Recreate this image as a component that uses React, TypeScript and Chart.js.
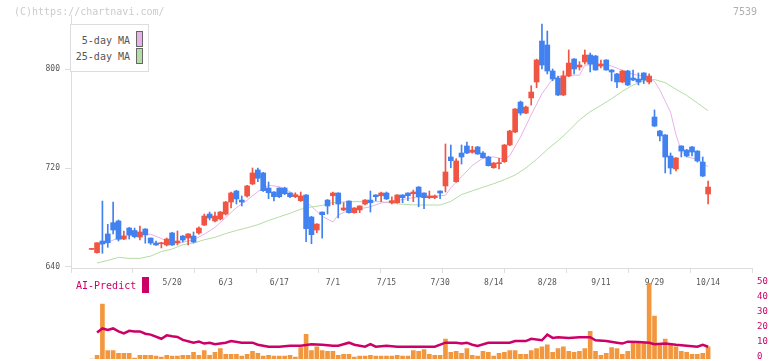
import React, { useEffect, useRef } from "react";
import { Chart, registerables } from "chart.js";
Chart.register(...registerables);

// ---------- data ----------
const openP = [654.2, 651.6, 661.0, 666.7, 675.8, 677.2, 662.6, 671.5, 669.5, 664.2, 670.7, 663.4, 659.4, 658.8, 657.8, 667.5, 659.4, 665, 663.4, 665, 667.5, 673.9, 682.8, 677.2, 678.8, 682.8, 692.5, 701.4, 694.1, 697.4, 707.1, 718.4, 716, 703.8, 700.6, 703.8, 703.8, 699.8, 696.8, 693.6, 698.2, 680.4, 669.9, 684.4, 694.1, 697.6, 699.8, 686.1, 693.3, 683.9, 686.1, 690.9, 694.1, 698.2, 697.6, 699.8, 692, 692, 698.2, 699.8, 699.2, 704.6, 699.8, 696, 696, 701.4, 705.5, 728.9, 708.9, 732.1, 737.8, 732.7, 737, 732.1, 728.9, 720.2, 723.5, 725.1, 738.6, 749.1, 773.3, 764.4, 776.6, 789.5, 822.6, 819.4, 798.4, 792.7, 779, 794.3, 808.1, 801.6, 805.7, 811.3, 810.5, 802.4, 807.3, 799.2, 796, 789.5, 798.4, 792.7, 791.9, 796.8, 789.5, 761.2, 749.9, 746.7, 729.7, 719.2, 737.8, 734.5, 737, 733.7, 724.8, 699];
const highP = [655, 659.6, 693.3, 674.5, 692.5, 678, 669.1, 672, 671.5, 673.1, 671, 663.5, 661, 660, 663.4, 668, 669.1, 665.5, 667, 668.3, 672.5, 682.8, 684.4, 684.4, 685, 693, 700.5, 702, 697.4, 706, 720, 720, 716.5, 708.7, 701, 704, 704.5, 700, 700, 700.6, 698.5, 681, 675, 684.5, 694.5, 700.5, 700, 692, 693.5, 688, 689.5, 694.5, 701.4, 698.5, 700.5, 700.6, 696.8, 698.5, 698.5, 700, 702.2, 705, 700, 701.4, 698.2, 701.5, 739.4, 738.6, 727.5, 738.6, 741, 737.5, 737.5, 733.2, 729.5, 724.5, 727.8, 739, 750.5, 768, 774.1, 770.1, 786.5, 808, 836.4, 830.7, 800, 794.3, 798.4, 815.4, 808.5, 805.9, 815.4, 812.9, 811, 807.3, 807.5, 799.5, 796.5, 799, 799, 799.2, 796.8, 797, 796, 766.9, 750.5, 747, 732.1, 728.5, 738, 735, 737.5, 734, 728.9, 709.5];
const lowP = [654.2, 651.1, 651.1, 655.9, 666.7, 661, 662, 662.6, 663.5, 661.8, 659.2, 658.3, 657.5, 655.4, 657, 657.5, 657.8, 660.2, 657.8, 659.5, 666.5, 673.5, 678, 676.5, 678, 682, 687.7, 690.9, 689.3, 696.5, 706.5, 708.9, 701, 695.2, 693.3, 696, 698.5, 696, 696, 693, 660.4, 658.8, 667.7, 663.4, 682.8, 690.3, 679.6, 685.5, 683.5, 683.5, 683.9, 690.1, 684.4, 693.6, 692.8, 694.5, 690.9, 691.5, 692, 693.6, 692.8, 688.7, 687.1, 695.2, 695.2, 695.2, 700.6, 720.2, 708.5, 723.2, 731.5, 732, 731, 728, 721.5, 719.8, 719.2, 724.5, 738, 748.5, 762.8, 764, 770.9, 784.9, 800, 796, 790.5, 778.5, 778.5, 793.8, 796, 799.2, 804, 797.6, 799, 800.8, 799, 790.3, 784.9, 789, 786.5, 790.5, 787.1, 788.2, 787.9, 753.5, 741.8, 716, 715.2, 717.6, 728.9, 729, 729.7, 724.8, 713, 690.9];
const closeP = [655, 659.6, 658.6, 659.6, 669.9, 662.4, 665.1, 665.9, 664.5, 668.3, 665.9, 659.4, 657.8, 659.4, 662.6, 657.8, 661, 661.8, 666.7, 660.2, 671.5, 681.2, 679.6, 681.2, 684.4, 692.5, 699.8, 695, 692.5, 705.5, 716, 711.7, 701.7, 700, 696.8, 696.8, 699.2, 696.8, 698.4, 697.4, 671, 666.1, 674.7, 682.3, 689.3, 699.8, 690.9, 687.7, 683.9, 687.7, 689.3, 694.1, 692, 696.8, 699.8, 695, 693.6, 698.2, 696, 697.6, 700.6, 696.8, 696, 697.4, 697.4, 699.8, 716.8, 725.9, 725.7, 728.9, 732.1, 734.5, 731.3, 728.3, 721.9, 724, 724, 738.6, 749.9, 767.7, 764.4, 769.3, 781.4, 807.3, 803.2, 798.4, 791.9, 779, 794.3, 804.8, 800, 803.2, 811.3, 804, 799.2, 804, 799.2, 797.6, 789.5, 798.4, 787.1, 791.1, 789.5, 791.1, 794.3, 753.9, 745.9, 728.9, 720, 728.1, 733.7, 729.7, 732.9, 725.7, 713.5, 704.6];
const volume = [0, 2.5, 36.7, 5.7, 5.7, 3.8, 3.8, 3.8, 0.6, 2.5, 2.5, 2.5, 1.9, 1.3, 2.5, 1.9, 1.9, 2.5, 2.5, 4.4, 2.5, 5.7, 2.5, 4.4, 7.0, 3.2, 3.2, 3.2, 1.9, 3.2, 5.1, 3.8, 1.9, 2.5, 1.9, 1.9, 1.9, 2.5, 1.3, 7.6, 16.5, 5.7, 8.2, 5.7, 5.1, 5.1, 2.5, 3.2, 3.2, 1.3, 1.9, 1.9, 2.5, 1.9, 1.9, 1.9, 1.9, 2.5, 1.9, 1.9, 5.7, 5.1, 6.3, 3.2, 2.5, 2.5, 13.3, 4.4, 5.1, 3.8, 7.0, 2.5, 1.9, 5.1, 4.4, 1.9, 3.8, 4.4, 5.7, 5.7, 3.2, 3.2, 5.7, 7.0, 8.2, 9.5, 4.4, 7.0, 8.2, 5.1, 4.4, 5.1, 7.0, 18.4, 5.1, 2.5, 3.8, 7.6, 7.0, 3.2, 5.1, 10.8, 10.8, 10.8, 50.6, 28.7, 9.5, 13.3, 9.5, 8.2, 5.1, 4.4, 3.2, 3.2, 3.8, 8.2];

const ma5Idx = [1, 3, 5, 7, 9, 11, 13, 15, 17, 19, 21, 23, 25, 27, 29, 31, 33, 35, 37, 39, 41, 43, 45, 46, 48, 50, 52, 54, 56, 58, 60, 62, 64, 66, 67, 69, 71, 73, 75, 77, 78, 80, 82, 84, 86, 88, 90, 91, 92, 95, 97, 99, 101, 103, 105, 106, 107, 108, 109, 110, 111, 113, 115];
const ma5Val = [657, 660, 663.5, 665.5, 666, 666.5, 663, 659.5, 660, 662, 666.5, 672, 680, 688, 694, 701, 706, 705, 700.8, 696, 689, 681, 676.4, 682, 686, 687, 688.7, 691.7, 693, 694.5, 696, 696.8, 697.2, 698, 704, 713, 722, 728, 729, 727, 730, 745, 763, 780, 792, 795, 795, 795, 803, 804, 802.4, 799, 795.7, 794, 790, 783, 774, 765, 747, 734, 729, 727, 721];
const ma25Idx = [1, 3, 5, 7, 9, 11, 13, 15, 17, 19, 21, 23, 25, 27, 29, 31, 33, 35, 37, 39, 41, 43, 45, 48, 51, 54, 57, 60, 63, 65, 67, 69, 71, 73, 75, 77, 79, 81, 83, 85, 87, 89, 91, 93, 95, 97, 99, 101, 103, 105, 107, 109, 111, 113, 115];
const ma25Val = [643.2, 645.3, 647.8, 647, 647, 648.8, 652.5, 654.5, 658, 659.3, 662, 664, 667, 669.5, 671.7, 674.2, 677.6, 680.5, 683.4, 686.7, 688.5, 689.8, 692, 692.8, 692.8, 692.8, 691, 690.2, 690.1, 690.1, 693, 698.5, 701.5, 704.5, 707.3, 710.5, 714.3, 720, 727, 735, 742, 750, 758.8, 765.5, 770.6, 776, 782, 787, 790.5, 791.5, 789, 783.6, 778.7, 772.5, 766.3];
const aiIdx = [1, 2, 3, 4, 5, 6, 7, 8, 9, 10, 11, 13, 14, 15, 16, 17, 19, 20, 21, 22, 23, 25, 26, 28, 30, 31, 33, 35, 37, 39, 41, 43, 45, 46, 48, 49, 51, 52, 53, 55, 57, 61, 64, 66, 68, 69, 70, 71, 72, 74, 76, 78, 79, 81, 82, 84, 85, 86, 87, 89, 91, 93, 94, 96, 98, 99, 100, 102, 104, 105, 107, 109, 111, 113, 114, 115];
const aiVal = [17.7, 20.4, 19.4, 20.4, 18.4, 17.1, 18.8, 18.4, 18.4, 16.9, 16.3, 13.5, 15.8, 15.2, 14.7, 12.8, 10.9, 11.6, 10.3, 10.9, 9.9, 10.9, 12.0, 10.9, 10.9, 9.5, 8.2, 8.2, 8.9, 8.9, 9.9, 9.5, 8.9, 8.9, 10.9, 9.5, 8.2, 9.9, 8.2, 8.9, 8.2, 8.2, 8.2, 10.9, 10.9, 10.3, 10.9, 9.5, 8.7, 10.8, 10.9, 10.9, 12.0, 12.0, 13.5, 12.5, 16.3, 14.1, 14.6, 14.1, 14.6, 14.6, 12.5, 12.0, 10.9, 10.3, 11.6, 11.4, 10.9, 9.9, 10.3, 9.5, 8.9, 8.2, 9.5, 8.2];

const dateIdx = [15, 25, 35, 45, 55, 65, 75, 85, 95, 105, 115];
const dateLabels = ["5/20", "6/3", "6/17", "7/1", "7/15", "7/30", "8/14", "8/28", "9/11", "9/29", "10/14"];
const priceTicks = [640, 720, 800];
const volTicks = [0, 10, 20, 30, 40, 50];

// ---------- styling ----------
const MONO = "'DejaVu Sans Mono', monospace";
const UP = "#f05442";
const DOWN = "#4281f0";
const MA5_COLOR = "#e8b2e8";
const MA25_COLOR = "#b4dca4";
const VOL_COLOR = "#f2973d";
const AI_COLOR = "#cc0066";
const GRID = "#dddddd";

const X_MIN = -3.86;
const X_MAX = 123.19;
const Y_MIN = 639.19;
const Y_MAX = 843.64;
const V_MAX = 52.5;

export default function App() {
  const mainRef = useRef<HTMLCanvasElement | null>(null);
  const lowRef = useRef<HTMLCanvasElement | null>(null);

  useEffect(() => {
    const candleColor = (i: number) => (closeP[i] >= openP[i] ? UP : DOWN);

    const main = new Chart(mainRef.current as HTMLCanvasElement, {
      type: "bar",
      data: {
        datasets: [
          {
            type: "bar",
            label: "body",
            data: openP.map((o, i) => ({ x: i, y: [o, closeP[i]] })) as any,
            backgroundColor: openP.map((_, i) => candleColor(i)),
            barThickness: 5,
            minBarLength: 1,
            grouped: false,
            xAxisID: "x",
            yAxisID: "y",
          },
          {
            type: "bar",
            label: "wick",
            data: lowP.map((l, i) => ({ x: i, y: [l, highP[i]] })) as any,
            backgroundColor: lowP.map((_, i) => candleColor(i)),
            barThickness: 1,
            grouped: false,
            xAxisID: "x",
            yAxisID: "y",
          },
          {
            type: "line",
            label: "5-day MA",
            data: ma5Idx.map((x, k) => ({ x, y: ma5Val[k] })),
            borderColor: MA5_COLOR,
            borderWidth: 1,
            pointRadius: 0,
            tension: 0,
            xAxisID: "x",
            yAxisID: "y",
          },
          {
            type: "line",
            label: "25-day MA",
            data: ma25Idx.map((x, k) => ({ x, y: ma25Val[k] })),
            borderColor: MA25_COLOR,
            borderWidth: 1,
            pointRadius: 0,
            tension: 0,
            xAxisID: "x",
            yAxisID: "y",
          },
        ],
      },
      options: {
        responsive: false,
        animation: false,
        layout: { padding: { top: 15, right: 20, left: 0, bottom: 0 } },
        plugins: { legend: { display: false }, tooltip: { enabled: false } },
        scales: {
          x: {
            type: "linear",
            position: "bottom",
            weight: 0,
            min: X_MIN,
            max: X_MAX,
            offset: false,
            afterBuildTicks: (s: any) => {
              s.ticks = Array.from({ length: 12 }, (_, k) => ({ value: X_MIN + (k * (X_MAX - X_MIN)) / 11 }));
            },
            ticks: { display: false },
            grid: { offset: false, drawOnChartArea: false, drawTicks: true, tickLength: 5, color: GRID },
            border: { display: true, color: GRID },
            afterFit: (s: any) => {
              s.height = 6;
            },
          },
          xl: {
            type: "linear",
            position: "bottom",
            weight: 1,
            min: X_MIN,
            max: X_MAX,
            offset: false,
            afterBuildTicks: (s: any) => {
              s.ticks = dateIdx.map((v) => ({ value: v }));
            },
            ticks: {
              autoSkip: false,
              maxRotation: 0,
              padding: 4,
              color: "#555",
              font: { family: MONO, size: 8 },
              callback: (v: any) => {
                const k = dateIdx.indexOf(Number(v));
                return k >= 0 ? dateLabels[k] : "";
              },
            },
            grid: { display: false, drawTicks: false, offset: false },
            border: { display: false },
            afterFit: (s: any) => {
              s.height = 26;
            },
          },
          y: {
            type: "linear",
            position: "left",
            min: Y_MIN,
            max: Y_MAX,
            afterBuildTicks: (s: any) => {
              s.ticks = priceTicks.map((v) => ({ value: v }));
            },
            ticks: {
              padding: 5,
              color: "#555",
              font: { family: MONO, size: 8 },
              callback: (v: any) => String(v),
            },
            grid: { drawOnChartArea: false, tickLength: 6, color: GRID },
            border: { display: true, color: GRID },
            afterFit: (s: any) => {
              s.width = 71;
            },
          },
        },
      } as any,
    });

    const low = new Chart(lowRef.current as HTMLCanvasElement, {
      type: "bar",
      data: {
        datasets: [
          {
            type: "line",
            label: "AI-Predict",
            data: aiIdx.map((x, k) => ({ x, y: aiVal[k] })),
            borderColor: AI_COLOR,
            borderWidth: 2.5,
            pointRadius: 0,
            tension: 0,
          },
          {
            type: "bar",
            label: "volume",
            data: volume.map((v, i) => ({ x: i, y: v })),
            backgroundColor: VOL_COLOR,
            barThickness: 4,
            grouped: false,
          },
        ],
      },
      options: {
        responsive: false,
        animation: false,
        layout: { padding: { top: 6, left: 71, right: 0, bottom: 31 } },
        plugins: { legend: { display: false }, tooltip: { enabled: false } },
        scales: {
          x: { type: "linear", min: X_MIN, max: X_MAX, offset: false, display: false, grid: { offset: false } },
          y: {
            type: "linear",
            position: "right",
            min: 0,
            max: V_MAX,
            afterBuildTicks: (s: any) => {
              s.ticks = volTicks.map((v) => ({ value: v }));
            },
            ticks: {
              padding: 5,
              labelOffset: -2,
              color: AI_COLOR,
              font: { family: MONO, size: 9 },
              callback: (v: any) => String(v),
            },
            grid: { display: false, drawTicks: false },
            border: { display: false },
            afterFit: (s: any) => {
              s.width = 20;
            },
          },
        },
      } as any,
    });

    return () => {
      main.destroy();
      low.destroy();
    };
  }, []);

  const txt: React.CSSProperties = {
    position: "absolute",
    fontFamily: MONO,
    fontSize: 10,
    lineHeight: "12px",
    whiteSpace: "nowrap",
  };

  return (
    <div style={{ position: "absolute", left: 0, top: 0, width: 772, height: 361, background: "#fff", overflow: "hidden" }}>
      <canvas ref={mainRef} width={772} height={300} style={{ position: "absolute", left: 0, top: 0 }} />
      <canvas ref={lowRef} width={772} height={120} style={{ position: "absolute", left: 0, top: 270 }} />
      <div style={{ ...txt, left: 14, top: 6, color: "#cccccc" }}>(C)https://chartnavi.com/</div>
      <div style={{ ...txt, left: 733, top: 6, color: "#b0b0b0" }}>7539</div>
      <div
        style={{
          position: "absolute",
          left: 70,
          top: 24,
          width: 79,
          height: 48,
          border: "1px solid #dddddd",
          boxSizing: "border-box",
          background: "#fff",
        }}
      />
      <div style={{ ...txt, left: 70, width: 60, textAlign: "right", top: 35, color: "#555" }}>5-day MA</div>
      <div style={{ ...txt, left: 70, width: 60, textAlign: "right", top: 51, color: "#555" }}>25-day MA</div>
      <div style={{ position: "absolute", left: 136, top: 31, width: 7, height: 16, boxSizing: "border-box", border: "1px solid #666", background: MA5_COLOR }} />
      <div style={{ position: "absolute", left: 136, top: 48, width: 7, height: 16, boxSizing: "border-box", border: "1px solid #666", background: MA25_COLOR }} />
      <div style={{ ...txt, left: 76, top: 280, color: AI_COLOR }}>AI-Predict</div>
      <div style={{ position: "absolute", left: 142, top: 277, width: 7, height: 16, background: AI_COLOR }} />
    </div>
  );
}
